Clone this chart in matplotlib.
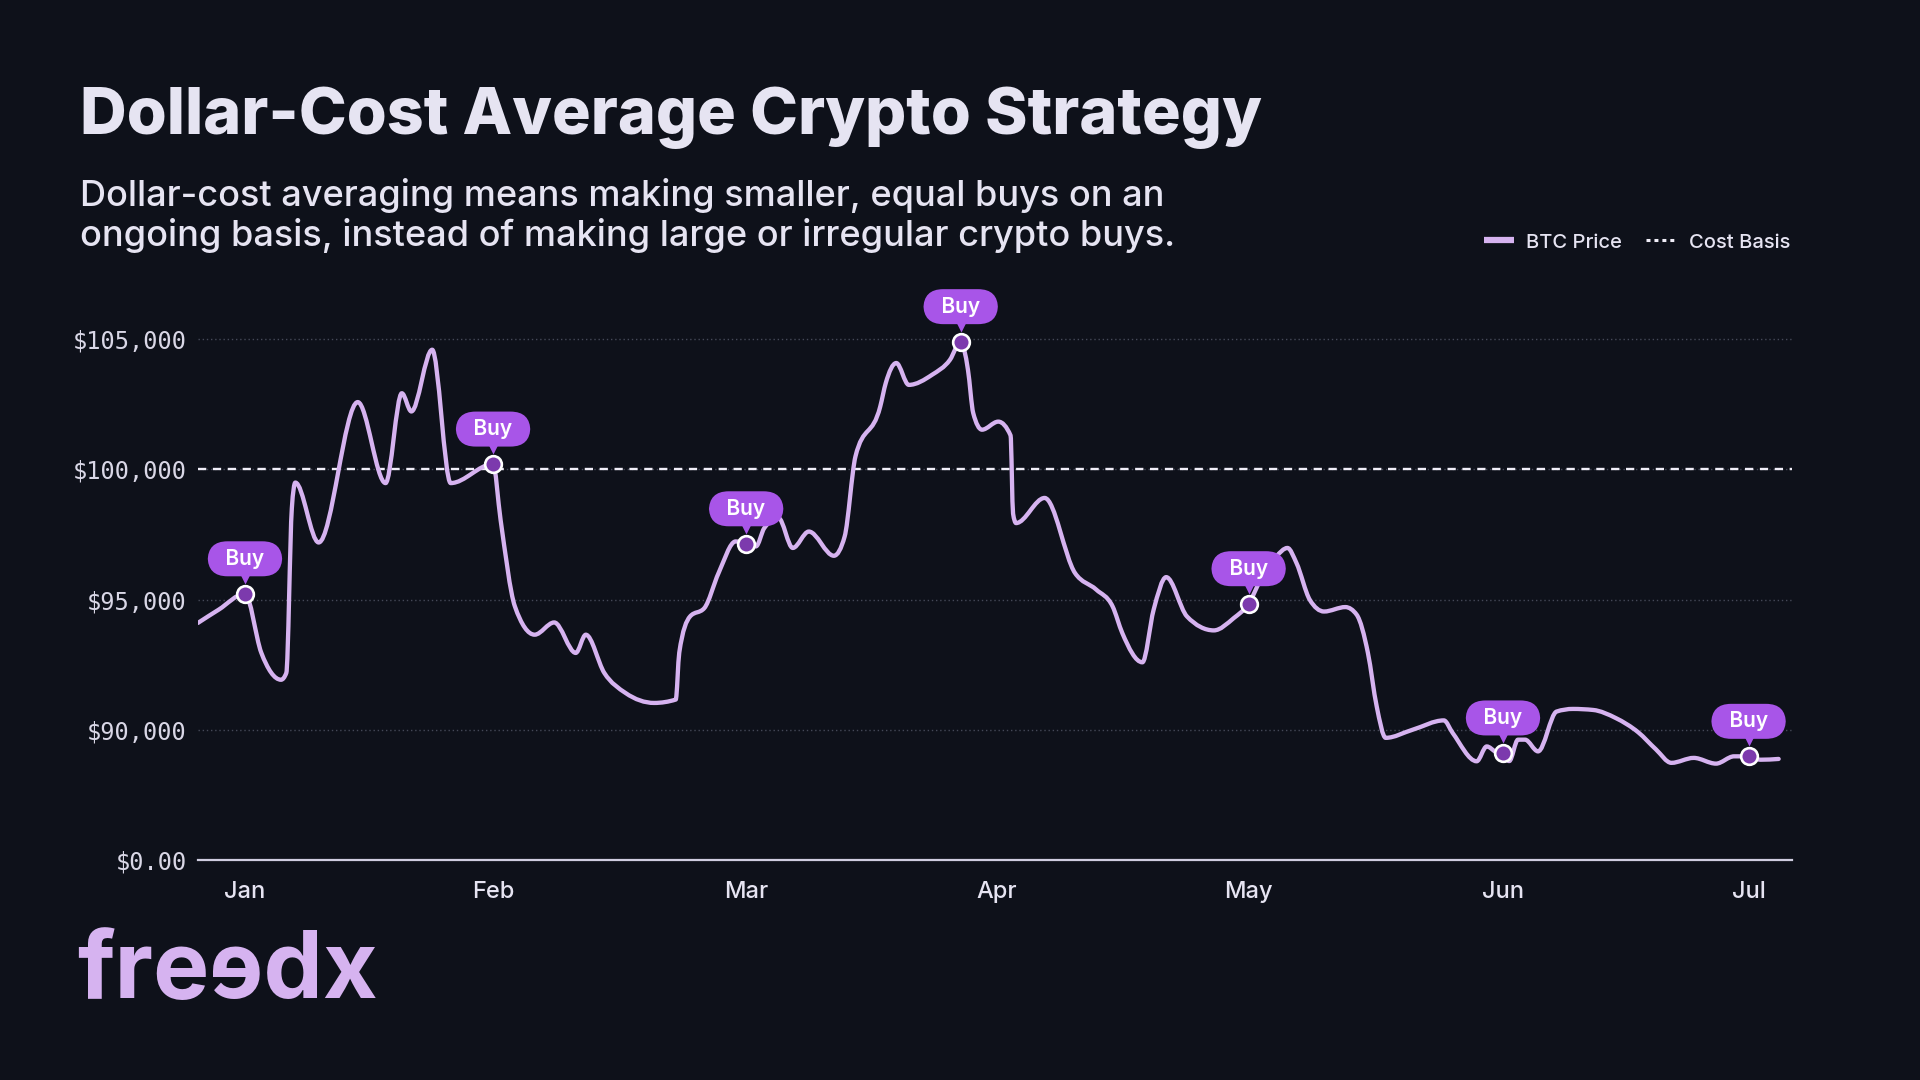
import numpy as np
import matplotlib.pyplot as plt
from matplotlib.path import Path
from matplotlib.patches import PathPatch
from matplotlib.lines import Line2D
from matplotlib.transforms import offset_copy

BG = '#0e111a'
LINE = '#d6b3f0'
BUY = '#a855e8'
DOT = '#7c3aad'
TXT = '#e6e4f2'

# x is measured in months from Jan (0 = Jan, 1 = Feb, ...)
months = ['Jan', 'Feb', 'Mar', 'Apr', 'May', 'Jun', 'Jul']
month_pos = [0, 0.99, 2.0, 3.0, 4.005, 5.02, 6.0]

price_x = [-0.188, -0.105, 0.0, 0.065, 0.144, 0.165, 0.187, 0.201, 0.294, 0.450,
           0.561, 0.626, 0.664, 0.747, 0.821, 0.99, 1.02, 1.077, 1.156, 1.234,
           1.320, 1.360, 1.434, 1.519, 1.633, 1.719, 1.733, 1.776, 1.833, 1.890,
           1.958, 2.0, 2.039, 2.072, 2.129, 2.186, 2.250, 2.350, 2.393, 2.436,
           2.535, 2.557, 2.599, 2.649, 2.742, 2.813, 2.856, 2.885, 2.906, 2.941,
           3.006, 3.055, 3.065, 3.077, 3.191, 3.312, 3.397, 3.462, 3.501, 3.581,
           3.626, 3.676, 3.759, 3.866, 3.946, 4.005, 4.053, 4.115, 4.160, 4.196,
           4.249, 4.306, 4.391, 4.436, 4.481, 4.516, 4.552, 4.659, 4.784, 4.819,
           4.915, 4.955, 4.99, 5.02, 5.045, 5.080, 5.108, 5.160, 5.234, 5.299,
           5.380, 5.470, 5.560, 5.630, 5.692, 5.781, 5.870, 5.942, 6.0, 6.048,
           6.12]
price_y = [94100, 94610, 95220, 92960, 91920, 92180, 98500, 99490, 97190, 102580,
           99470, 102920, 102220, 104590, 99470, 100200, 98060, 94740, 93650, 94120,
           92950, 93650, 92180, 91410, 91030, 91160, 92960, 94350, 94670, 96020,
           97230, 97140, 97040, 97740, 98130, 96980, 97610, 96680, 97420, 100490,
           102410, 103310, 104080, 103240, 103630, 104200, 104900, 103820, 102160, 101520,
           101830, 101300, 98300, 97935, 98900, 96020, 95380, 94740, 93710, 92590,
           94610, 95860, 94350, 93815, 94290, 94840, 95760, 96650, 96980, 96400,
           94990, 94540, 94710, 94420, 92950, 90900, 89690, 90000, 90360, 89880,
           88790, 89360, 89150, 88950, 88800, 89620, 89620, 89170, 90700, 90800,
           90760, 90450, 89900, 89250, 88730, 88920, 88700, 88980, 88980, 88850,
           88880]

buy_x = [0.0, 0.99, 2.0, 2.856, 4.005, 5.02, 6.0]
buy_y = [95220, 100200, 97140, 104900, 94840, 89110, 88980]

cost_basis = 100000
ytick_vals = [85000, 90000, 95000, 100000, 105000]
ytick_labels = ['$0.00', '$90,000', '$95,000', '$100,000', '$105,000']


def monotone_path(x, y):
    # smooth curve through the points (monotone-x cubic, drawn as bezier segments)
    x = np.asarray(x, float)
    y = np.asarray(y, float)
    h = np.diff(x)
    s = np.diff(y) / h
    m = np.zeros_like(x)
    for i in range(1, len(x) - 1):
        s0, s1 = s[i - 1], s[i]
        p = (s0 * h[i] + s1 * h[i - 1]) / (h[i - 1] + h[i])
        m[i] = (np.sign(s0) + np.sign(s1)) * min(abs(s0), abs(s1), 0.5 * abs(p))
    m[0] = (3 * s[0] - m[1]) / 2
    m[-1] = (3 * s[-1] - m[-2]) / 2
    verts = [(x[0], y[0])]
    codes = [Path.MOVETO]
    for i in range(len(x) - 1):
        d = h[i] / 3
        verts += [(x[i] + d, y[i] + m[i] * d),
                  (x[i + 1] - d, y[i + 1] - m[i + 1] * d),
                  (x[i + 1], y[i + 1])]
        codes += [Path.CURVE4] * 3
    return Path(verts, codes)


fig = plt.figure(figsize=(19.2, 10.8), dpi=100, facecolor=BG)
ax = fig.add_axes([0.1031, 0.2037, 0.8302, 0.5306])
ax.set_facecolor(BG)

ax.set_xlim(-0.1876, 6.173)
ax.set_ylim(85000, 107000)

ax.set_yticks(ytick_vals, labels=ytick_labels)
ax.set_xticks(month_pos, labels=months)
ax.tick_params(axis='y', length=0, pad=8, labelsize=17, labelcolor='#d9d7e6')
ax.tick_params(axis='x', length=0, pad=15, labelsize=17, labelcolor=TXT)
for lab in ax.get_yticklabels():
    lab.set_family('DejaVu Sans Mono')
for lab in ax.get_xticklabels():
    lab.set_family('Inter')
    lab.set_fontweight('medium')

ax.grid(axis='y', color='#454958', lw=1, ls=(0, (1, 2)))
ax.set_axisbelow(True)
for side in ['top', 'left', 'right']:
    ax.spines[side].set_visible(False)
ax.spines['bottom'].set_color('#cfcde0')
ax.spines['bottom'].set_linewidth(1.6)

ax.axhline(cost_basis, color='#f0eef8', lw=1.7, ls=(0, (3.5, 2.8)), zorder=2)

ax.add_patch(PathPatch(monotone_path(price_x, price_y), fill=False,
                       ec=LINE, lw=3.1, capstyle='round', joinstyle='round', zorder=3))

ax.plot(buy_x, buy_y, 'o', ms=12, mfc=DOT, mec='white', mew=1.9, zorder=5)
ax.plot(buy_x, buy_y, 'v', ms=7, color=BUY, mec='none', zorder=5,
        transform=offset_copy(ax.transData, fig=fig, y=15, units='dots'))
for bx, by in zip(buy_x, buy_y):
    ax.annotate('  Buy  ', (bx, by), xytext=(0, 35), textcoords='offset pixels',
                ha='center', va='center', color='white', fontsize=15,
                family='Inter', fontweight='semibold', zorder=6, annotation_clip=False,
                bbox=dict(boxstyle='round,pad=0.36,rounding_size=0.95', fc=BUY, ec='none'))

handles = [Line2D([], [], color=LINE, lw=4.5, solid_capstyle='butt'),
           Line2D([], [], color='#f0eef8', lw=2.2, ls=(0, (1.3, 1.3)))]
fig.legend(handles, ['BTC Price', 'Cost Basis'], loc='center right',
           bbox_to_anchor=(1790 / 1920, 0.7755), ncol=2, frameon=False,
           borderaxespad=0, borderpad=0,
           handlelength=1.5, handletextpad=0.6, columnspacing=1.2,
           prop={'family': 'Inter', 'size': 14.5, 'weight': 'medium'}, labelcolor=TXT)

fig.text(80 / 1920, 1 - 134 / 1080, 'Dollar-Cost Average Crypto Strategy',
         family='Inter', fontweight='heavy', fontsize=46.5, color=TXT, va='baseline')
fig.text(80 / 1920, 1 - 206 / 1080,
         'Dollar-cost averaging means making smaller, equal buys on an',
         family='Inter', fontweight='medium', fontsize=26, color=TXT, va='baseline')
fig.text(80 / 1920, 1 - 246 / 1080,
         'ongoing basis, instead of making large or irregular crypto buys.',
         family='Inter', fontweight='medium', fontsize=26, color=TXT, va='baseline')

fig.text(77 / 1920, 1 - 998 / 1080, 'fre\u0258dx', family='Inter', fontweight='bold',
         fontsize=68, color=LINE, va='baseline')

fig.savefig('out.png', dpi=100, facecolor=BG)
